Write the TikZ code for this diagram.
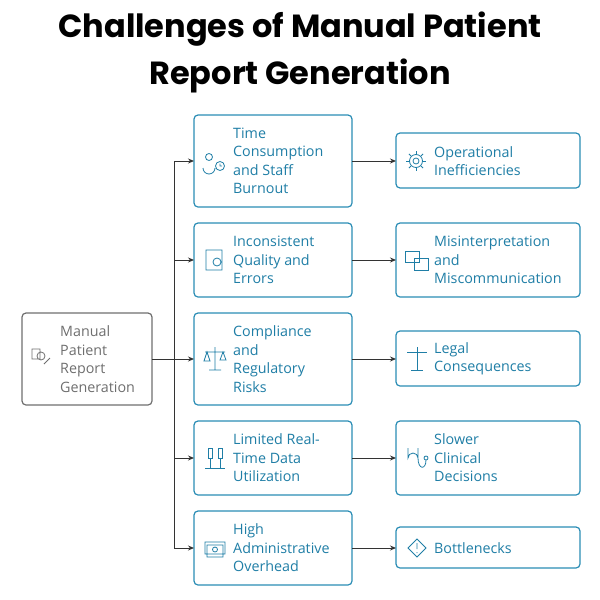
\documentclass[tikz,border=0pt]{standalone}
\usepackage{fontspec}
\setmainfont{Open Sans}
\newfontfamily\titlefont{Poppins}
\usetikzlibrary{arrows.meta,calc}
\definecolor{bl}{HTML}{2A8DB5}
\definecolor{bt}{HTML}{1F7EA6}
\definecolor{gr}{HTML}{6E6E6E}
\begin{document}
\begin{tikzpicture}[x=1pt,y=-1pt,
 box/.style={draw=bl,line width=1.2pt,rounded corners=4pt,fill=white},
 lbl/.style={text=bt,align=left,anchor=west,inner sep=0pt,font=\fontsize{14.3}{18.5}\selectfont},
 arr/.style={-{Stealth[length=6pt,width=5pt]},line width=0.9pt,draw=black!80},
 ic/.style={draw=bt,line width=0.8pt}]
\useasboundingbox (0,0) rectangle (600,600);
\node[font=\titlefont\bfseries\fontsize{32}{47}\selectfont,align=center] (title) at (300,52) {Challenges of Manual Patient\\Report Generation};
% left
\draw[draw=gr,line width=1.2pt,rounded corners=4pt] (22,313) rectangle (152,405);
\node (L) at (87,359) {};
\coordinate (Lr) at (152,359);
\node[lbl,text=gr] (Lt) at (60,359) {Manual\\Patient\\Report\\Generation};
\draw[draw=gr,line width=0.8pt] (32,349) rectangle (40,359) (41,356) circle (4) (44,364)--(50,358);
% trunk
\coordinate (T) at (174,359);
\coordinate (Ttop) at (174,161);
\coordinate (Tbot) at (174,548);
\draw[line width=0.9pt,draw=black!80] (Lr)--(T) (Ttop)--(Tbot);
\foreach \i/\yt/\yb/\ry/\ryt/\ryb/\mt/\rt in {
 1/115/207/161/133/188/{Time\\Consumption\\and Staff\\Burnout}/{Operational\\Inefficiencies},
 2/223/297/260/223/297/{Inconsistent\\Quality and\\Errors}/{Misinterpretation\\and\\Miscommunication},
 3/313/405/359/331/386/{Compliance\\and\\Regulatory\\Risks}/{Legal\\Consequences},
 4/421/495/458/421/495/{Limited Real-\\Time Data\\Utilization}/{Slower\\Clinical\\Decisions},
 5/511/585/548/527/568/{High\\Administrative\\Overhead}/{Bottlenecks}}{
 \draw[box] (194,\yt) rectangle (352,\yb);
 \coordinate (M\i) at (194,\ry);
 \coordinate (Mr\i) at (352,\ry);
 \node[lbl] (mt\i) at (233,\ry) {\mt};
 \draw[box] (396,\ryt) rectangle (580,\ryb);
 \coordinate (R\i) at (396,\ry);
 \node[lbl] (rt\i) at (434,\ry) {\rt};
 \draw[arr] (174,\ry)--(M\i);
 \draw[arr] (Mr\i)--(R\i);
}
% simple icons middle
\draw[ic] (209,157) circle (3.5) (203,168) arc (180:0:6) (220,166) circle (4.5) (220,163.5)--(220,166)--(222,166);
\draw[ic] (206,250) rectangle (222,270) (217,262) circle (4);
\draw[ic] (205,352)--(225,352) (215,347)--(215,370) (209,370)--(221,370) (207,352)--(204,361)--(210,361)--cycle (223,352)--(220,360)--(226,360)--cycle;
\draw[ic] (205,468)--(225,468) (208,448) rectangle (212,458) (218,448) rectangle (222,458) (210,458)--(210,468) (220,458)--(220,468);
\draw[ic] (205,542) rectangle (225,554) (207,545) rectangle (223,557) (215,549.5) circle (2.5);
% right icons
\draw[ic] (416,161) circle (3) (416,161) circle (6.5);
\foreach \a in {0,45,...,315}\draw[ic] ($(416,161)+(\a:7)$)--($(416,161)+(\a:10)$);
\draw[ic] (405,251) rectangle (419,262) (414,258) rectangle (428,270);
\draw[ic] (407,352)--(427,352) (417,347)--(417,370) (411,370)--(423,370);
\draw[ic] (408,448)--(408,458) arc (180:360:5) -- (418,448) (418,458) .. controls (418,470) and (426,470) .. (426,460) (426,458) circle (2);
\draw[ic] (417,539)--(426,548)--(417,557)--(408,548)--cycle (417,543)--(417,549) (417,552)--(417,553);
\end{tikzpicture}
\end{document}
